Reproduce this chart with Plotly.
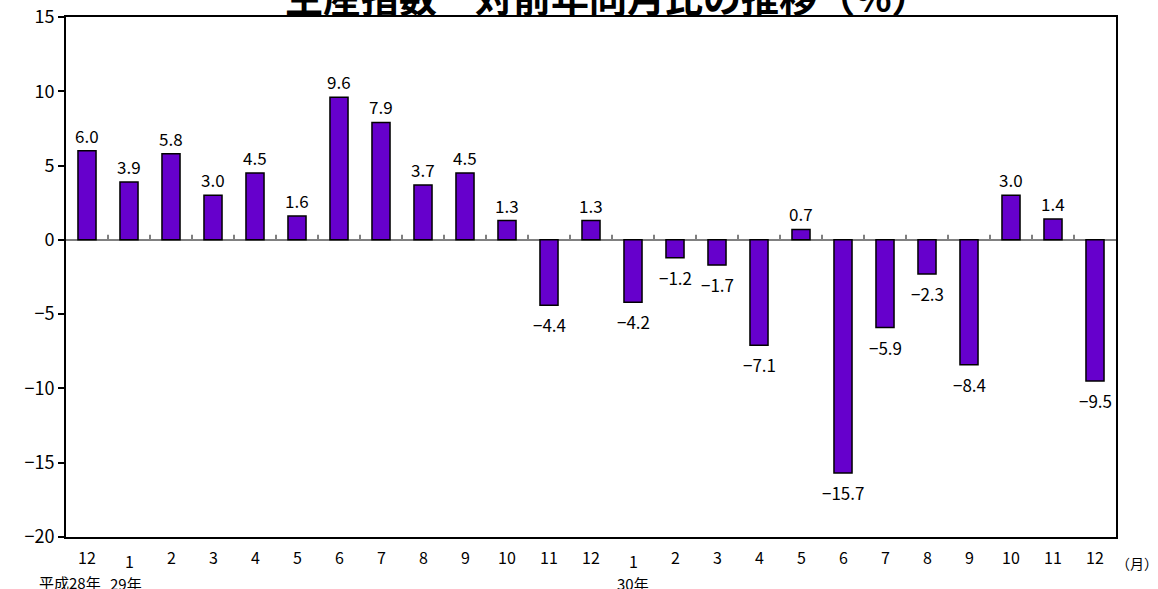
import plotly.graph_objects as go

months = ["12", "1", "2", "3", "4", "5", "6", "7", "8", "9", "10", "11", "12",
          "1", "2", "3", "4", "5", "6", "7", "8", "9", "10", "11", "12"]
values = [6.0, 3.9, 5.8, 3.0, 4.5, 1.6, 9.6, 7.9, 3.7, 4.5, 1.3, -4.4, 1.3,
          -4.2, -1.2, -1.7, -7.1, 0.7, -15.7, -5.9, -2.3, -8.4, 3.0, 1.4, -9.5]
year_labels = {0: "平成28年", 1: "29年", 13: "30年"}
y_ticks = [15, 10, 5, 0, -5, -10, -15, -20]
title = "生産指数　対前年同月比の推移（%）"

FONT = "Noto Sans CJK JP"
x = list(range(len(values)))
n = len(values)

def fmt(v):
    s = f"{abs(v):.1f}"
    return ("\u2212" + s) if v < 0 else s

fig = go.Figure()
fig.add_trace(go.Bar(
    x=x, y=values,
    marker=dict(color="#6600CC", line=dict(color="black", width=1.5)),
    cliponaxis=False,
))

# category boundary ticks on the zero line
for i in range(n - 1):
    fig.add_shape(type="line", xref="x", yref="y", x0=i + 0.5, x1=i + 0.5,
                  ysizemode="pixel", yanchor=0, y0=0, y1=5,
                  line=dict(color="#808080", width=2))

annotations = []
# value labels
for i, v in enumerate(values):
    pos = v >= 0
    annotations.append(dict(x=i, y=v, xref="x", yref="y", text=fmt(v),
                            showarrow=False,
                            yanchor="bottom" if pos else "top",
                            yshift=1 if pos else -5,
                            font=dict(family=FONT, size=17, color="black")))
for i, m in enumerate(months):
    shift = -24 if m == "1" else -20
    annotations.append(dict(x=i, y=0, xref="x", yref="paper", text=m,
                            showarrow=False, yshift=shift, yanchor="middle",
                            font=dict(family=FONT, size=16, color="black")))
for i, t in year_labels.items():
    if i == 0:
        annotations.append(dict(x=i, y=0, xref="x", yref="paper", text=t,
                                showarrow=False, yshift=-45, yanchor="middle",
                                xanchor="right", xshift=16,
                                font=dict(family=FONT, size=15, color="black")))
    else:
        annotations.append(dict(x=i, y=0, xref="x", yref="paper", text=t,
                                showarrow=False, yshift=-46, yanchor="middle",
                                xshift=-3 if i == 1 else 0,
                                font=dict(family=FONT, size=15, color="black")))
annotations.append(dict(x=n - 1, y=0, xref="x", yref="paper", text="（月）",
                        showarrow=False, yshift=-26, xshift=42, xanchor="center",
                        yanchor="middle",
                        font=dict(family=FONT, size=14, color="black")))
annotations.append(dict(x=(n - 1) / 2, y=1, xref="x", yref="paper",
                        text="<b>" + title + "</b>",
                        showarrow=False, yanchor="bottom", yshift=-8, xshift=16,
                        font=dict(family=FONT, size=38, color="black")))

fig.update_layout(
    width=1158, height=589,
    margin=dict(l=66, r=42, t=17, b=52),
    paper_bgcolor="white", plot_bgcolor="white",
    showlegend=False,
    bargap=0.57,
    annotations=annotations,
    xaxis=dict(range=[-0.5, n - 0.5], showticklabels=False, ticks="",
               showgrid=False, zeroline=False, showline=True, mirror=True,
               linecolor="black", linewidth=2, automargin=False),
    yaxis=dict(range=[-20, 15], tickvals=y_ticks,
               ticktext=[("\u2212" + str(abs(t))) if t < 0 else str(t) for t in y_ticks],
               ticks="outside", ticklen=6, tickwidth=1.5, tickcolor="black",
               showgrid=False, zeroline=True, zerolinecolor="#808080", zerolinewidth=2,
               showline=True, mirror=True, linecolor="black", linewidth=2,
               automargin=False, ticklabeloverflow="allow",
               tickfont=dict(family=FONT, size=18, color="black")),
)

fig.write_html("out.html", config={"displayModeBar": False},
               post_script="document.body.style.margin='0';")
